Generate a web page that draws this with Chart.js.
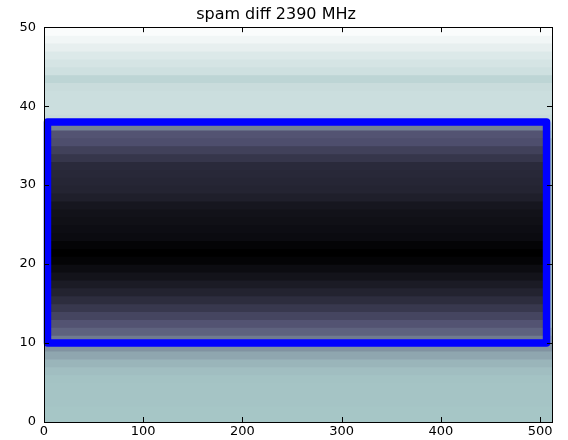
<!DOCTYPE html>
<html>
<head>
<meta charset="utf-8">
<script src="https://cdn.jsdelivr.net/npm/chart.js@4/dist/chart.umd.min.js"></script>
<style>
    html, body { margin: 0; padding: 0; background: #fff; }
</style>
</head>
<body>
<canvas id="mycanvas" width="568" height="440"></canvas>
<script>
// image values, one per row (row 0 at the bottom), bone colormap 0..1
var rowValues = [
    0.745, 0.745, 0.74, 0.74, 0.74, 0.735, 0.72, 0.69, 0.64, 0.58,
    0.60, 0.64, 0.70, 0.70, 0.70, 0.70, 0.70, 0.70, 0.70, 0.70,
    0.70, 0.70, 0.70, 0.70, 0.70, 0.70, 0.70, 0.70, 0.70, 0.70,
    0.70, 0.70, 0.70, 0.70, 0.70, 0.70, 0.76, 0.80, 0.84, 0.85,
    0.85, 0.85, 0.845, 0.81, 0.86, 0.88, 0.90, 0.93, 0.96, 0.985
];
// the dark block, rows 10..37
var innerFirstRow = 10;
var innerValues = [
    0.50, 0.42, 0.37, 0.31, 0.25, 0.20, 0.155, 0.12, 0.085, 0.055,
    0.02, 0.0, 0.02, 0.05, 0.06, 0.07, 0.08, 0.10, 0.14, 0.16,
    0.17, 0.18, 0.19, 0.24, 0.29, 0.35, 0.37, 0.52
];
var imageWidth = 512;
var innerSpan = [4, 506];
// blue box
var boxX = [3.5, 3.5, 506.5, 506.5, 3.5];
var boxY = [10, 38, 38, 10, 10];
var xTicks = [0, 100, 200, 300, 400, 500];
var yTicks = [0, 10, 20, 30, 40, 50];

function bone(v) {
    var r, g, b;
    if (v < 0.746032) r = v * 0.652778 / 0.746032;
    else r = 0.652778 + (v - 0.746032) * 0.347222 / 0.253968;
    if (v < 0.365079) g = v * 0.319444 / 0.365079;
    else if (v < 0.746032) g = 0.319444 + (v - 0.365079) * 0.458334 / 0.380953;
    else g = 0.777778 + (v - 0.746032) * 0.222222 / 0.253968;
    if (v < 0.365079) b = v * 0.444444 / 0.365079;
    else b = 0.444444 + (v - 0.365079) * 0.555556 / 0.634921;
    return 'rgb(' + Math.round(r * 255) + ',' + Math.round(g * 255) + ',' + Math.round(b * 255) + ')';
}

var bgData = rowValues.map(function(v, i) { return {x: [0, imageWidth], y: i + 0.5}; });
var innerData = innerValues.map(function(v, i) { return {x: innerSpan, y: innerFirstRow + i + 0.5}; });
var boxData = boxX.map(function(x, i) { return {x: x, y: boxY[i]}; });

// matplotlib style frame with inward ticks
var frame = {
    id: 'frame',
    afterDatasetsDraw: function(chart) {
        var ctx = chart.ctx, a = chart.chartArea;
        var xs = chart.scales.x, ys = chart.scales.y;
        ctx.save();
        ctx.strokeStyle = '#000';
        ctx.lineWidth = 1;
        ctx.beginPath();
        xTicks.forEach(function(t) {
            var px = Math.round(xs.getPixelForValue(t)) + 0.5;
            ctx.moveTo(px, a.bottom); ctx.lineTo(px, a.bottom - 5);
            ctx.moveTo(px, a.top); ctx.lineTo(px, a.top + 5);
        });
        yTicks.forEach(function(t) {
            var py = Math.round(ys.getPixelForValue(t)) + 0.5;
            ctx.moveTo(a.left, py); ctx.lineTo(a.left + 5, py);
            ctx.moveTo(a.right, py); ctx.lineTo(a.right - 5, py);
        });
        ctx.stroke();
        ctx.strokeRect(Math.round(a.left) + 0.5, Math.round(a.top) + 0.5,
            Math.round(a.right - a.left), Math.round(a.bottom - a.top));
        ctx.restore();
    }
};

var tickFont = {family: 'DejaVu Sans', size: 13};

new Chart(document.getElementById('mycanvas'), {
    type: 'bar',
    data: {
        datasets: [
            {
                type: 'line',
                data: boxData,
                borderColor: '#0000ff',
                borderWidth: 7.5,
                borderJoinStyle: 'round',
                borderCapStyle: 'round',
                pointRadius: 0,
                fill: false,
                tension: 0,
                clip: 10,
                order: 0
            },
            {
                data: innerData,
                backgroundColor: innerValues.map(bone),
                borderWidth: 0,
                grouped: false,
                barPercentage: 1.15,
                categoryPercentage: 1,
                order: 1
            },
            {
                data: bgData,
                backgroundColor: rowValues.map(bone),
                borderWidth: 0,
                grouped: false,
                barPercentage: 1.15,
                categoryPercentage: 1,
                order: 2
            }
        ]
    },
    options: {
        indexAxis: 'y',
        responsive: false,
        animation: false,
        devicePixelRatio: 1,
        layout: {padding: {left: 0, right: 16, top: 0, bottom: 0}},
        plugins: {
            legend: {display: false},
            tooltip: {enabled: false},
            title: {
                display: true,
                text: 'spam diff 2390 MHz',
                color: '#000',
                font: {family: 'DejaVu Sans', size: 16, weight: 'normal'},
                padding: {top: 5, bottom: 3}
            }
        },
        scales: {
            x: {
                type: 'linear',
                min: 0,
                max: imageWidth,
                offset: false,
                grid: {display: false, drawTicks: false, tickLength: 0},
                border: {display: false},
                afterFit: function(s) { s.height = 18; },
                ticks: {
                    stepSize: 100,
                    includeBounds: false,
                    maxRotation: 0,
                    autoSkip: false,
                    padding: 2,
                    color: '#000',
                    font: tickFont
                }
            },
            y: {
                type: 'linear',
                min: 0,
                max: 50,
                offset: false,
                grid: {display: false, drawTicks: false, tickLength: 0},
                border: {display: false},
                afterFit: function(s) { s.width = 44; },
                ticks: {
                    stepSize: 10,
                    padding: 8,
                    color: '#000',
                    font: tickFont
                }
            }
        }
    },
    plugins: [frame]
});
</script>
</body>
</html>
